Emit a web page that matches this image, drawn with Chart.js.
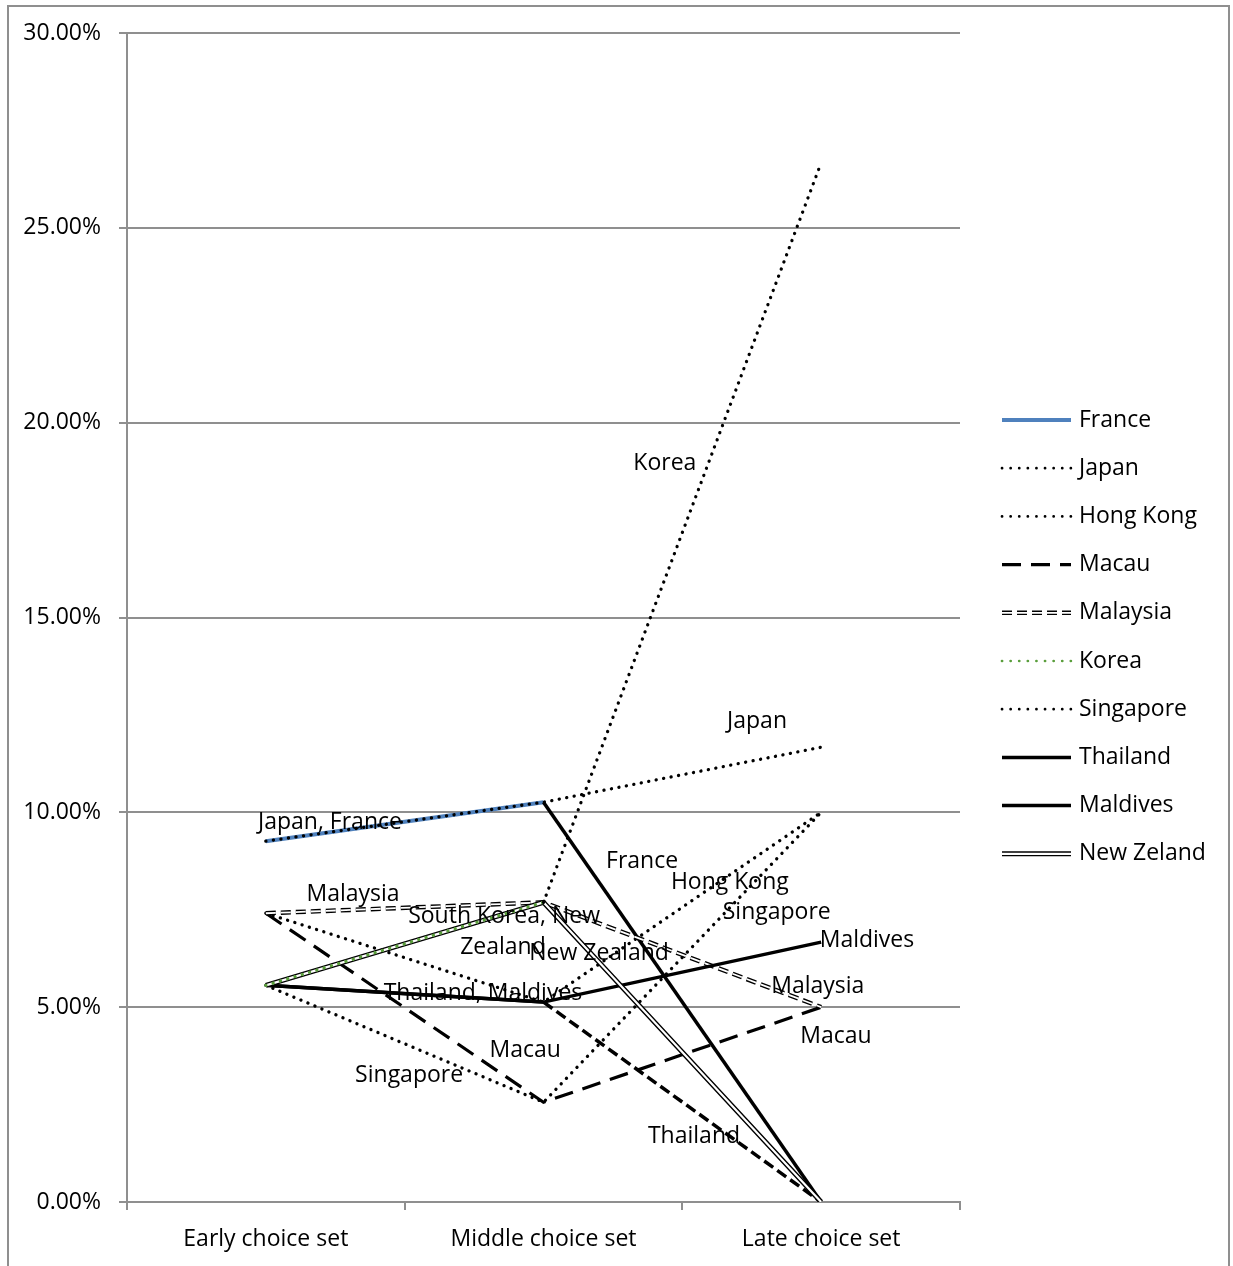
<!DOCTYPE html>
<html lang="en">
<head>
<meta charset="UTF-8">
<title>Choice sets</title>
<script src="https://cdn.jsdelivr.net/npm/chart.js"></script>
<style>
  body { margin: 0; background: #fff; }
  canvas { display: block; }
</style>
</head>
<body>
<canvas id="myChart" width="1233" height="1266"></canvas>
<script>
// data (percent)
const categories = ['Early choice set', 'Middle choice set', 'Late choice set'];
const france    = [9.26, 10.26, 0];
const japan     = [9.26, 10.26, 11.67];
const hongKong  = [7.41, 5.13, 10.0];
const macau     = [7.41, 2.56, 5.0];
const malaysia  = [7.41, 7.69, 5.0];
const korea     = [5.56, 7.69, 26.67];
const singapore = [5.56, 2.56, 10.0];
const thailand  = [5.56, 5.13, 0];
const maldives  = [5.56, 5.13, 6.67];
const newZeland = [5.56, 7.69, 0];
const yTicks = [0, 5, 10, 15, 20, 25, 30];

// text labels on the plot: [text, category position, value]
const plotLabels = [
    ['Japan, France', 0.231, 9.73],
    ['Malaysia', 0.314, 7.88],
    ['South Korea, New', 0.858, 7.34],
    ['Zealand', 0.854, 6.54],
    ['New Zealand', 1.20, 6.39],
    ['Thailand, Maldives', 0.782, 5.36],
    ['Macau', 0.934, 3.90],
    ['Singapore', 0.516, 3.26],
    ['Korea', 1.437, 18.96],
    ['Japan', 1.769, 12.32],
    ['France', 1.355, 8.73],
    ['Hong Kong', 1.671, 8.19],
    ['Singapore', 1.840, 7.42],
    ['Maldives', 2.165, 6.72],
    ['Malaysia', 1.988, 5.52],
    ['Macau', 2.053, 4.26],
    ['Thailand', 1.542, 1.67]
];

const FONT = 'Open Sans';
const FSIZE = 23;
const BLUE = '#4f81bd';
const GREEN = '#5a9e3c';
const GRID = '#8f8f8f';
const DOT = [0.1, 7.5];

const seriesStyle = {
    'France':     { data: france,    color: BLUE,  width: 4,   dash: [] },
    'Japan':      { data: japan,     color: '#000', width: 3.3, dash: DOT },
    'Hong Kong':  { data: hongKong,  color: '#000', width: 3.3, dash: DOT },
    'Macau':      { data: macau,     color: '#000', width: 3.2, dash: [19, 10] },
    'Malaysia':   { data: malaysia,  color: '#000', width: 4.5, dash: [10, 5], inner: 1.8 },
    'Korea':      { data: korea,     color: GREEN, width: 3.3, dash: DOT },
    'Singapore':  { data: singapore, color: '#000', width: 3.3, dash: DOT },
    'Thailand':   { data: thailand,  color: '#000', width: 3.5, dash: [] },
    'Maldives':   { data: maldives,  color: '#000', width: 3.5, dash: [] },
    'New Zeland': { data: newZeland, color: '#000', width: 5, dash: [], inner: 2.2 }
};

// segment tweaks: second segment drawn in black / dashed
const afterMiddle = c => c.p0DataIndex === 1;

const datasets = [];
const names = Object.keys(seriesStyle);
names.forEach(function (name, i) {
    const s = seriesStyle[name];
    const ds = {
        label: name,
        data: s.data,
        borderColor: s.color,
        borderWidth: s.width,
        borderDash: s.dash,
        borderCapStyle: s.dash === DOT ? 'round' : 'butt',
        pointRadius: 0,
        tension: 0,
        order: 20 - i * 2
    };
    if (name === 'France') {
        ds.segment = {
            borderColor: c => afterMiddle(c) ? '#000' : undefined,
            borderWidth: c => afterMiddle(c) ? 3.5 : undefined
        };
    }
    if (name === 'Korea') {
        ds.order = 0;
        ds.segment = { borderColor: c => afterMiddle(c) ? '#000' : undefined };
    }
    if (name === 'Thailand') {
        ds.segment = { borderDash: c => afterMiddle(c) ? [11, 5] : undefined };
    }
    datasets.push(ds);
    if (s.inner) {
        datasets.push({
            label: name + ' inner',
            data: s.data,
            borderColor: '#fff',
            borderWidth: s.inner,
            borderDash: s.dash,
            pointRadius: 0,
            tension: 0,
            order: 20 - i * 2 - 1
        });
    }
});

const framePlugin = {
    id: 'frame',
    beforeDraw(chart) {
        const c = chart.ctx;
        c.save();
        c.fillStyle = '#fff';
        c.fillRect(0, 0, chart.width, chart.height);
        c.strokeStyle = GRID;
        c.lineWidth = 2;
        c.strokeRect(8, 6, 1221, 1280);
        c.restore();
    }
};

const labelPlugin = {
    id: 'plotLabels',
    afterDatasetsDraw(chart) {
        const c = chart.ctx;
        const x = chart.scales.x, y = chart.scales.y;
        c.save();
        c.font = FSIZE + 'px "' + FONT + '"';
        c.fillStyle = '#000';
        c.textAlign = 'center';
        c.textBaseline = 'middle';
        plotLabels.forEach(function (l) {
            c.fillText(l[0], x.getPixelForValue(l[1]), y.getPixelForValue(l[2]));
        });
        c.restore();
    }
};

const legendPlugin = {
    id: 'sideLegend',
    afterDraw(chart) {
        const c = chart.ctx;
        c.save();
        c.font = FSIZE + 'px "' + FONT + '"';
        c.textBaseline = 'middle';
        names.forEach(function (name, i) {
            const s = seriesStyle[name];
            const yy = 420 + i * 48.2;
            const w = s.dash === DOT ? 2.7 : s.width;
            c.strokeStyle = s.color;
            c.lineWidth = w;
            c.lineCap = s.dash === DOT ? 'round' : 'butt';
            c.setLineDash(s.dash === DOT ? [0.1, 8.5] : s.dash);
            c.beginPath();
            c.moveTo(1002, yy);
            c.lineTo(1071, yy);
            c.stroke();
            if (s.inner) {
                c.strokeStyle = '#fff';
                c.lineWidth = s.inner;
                c.beginPath();
                c.moveTo(1002, yy);
                c.lineTo(1071, yy);
                c.stroke();
            }
            c.setLineDash([]);
            c.fillStyle = '#000';
            c.fillText(name, 1079, yy);
        });
        c.restore();
    }
};

const ctx = document.getElementById('myChart');
const chart = new Chart(ctx, {
    type: 'line',
    data: { labels: categories, datasets: datasets },
    options: {
        responsive: false,
        animation: false,
        layout: { padding: { top: 33, right: 273, left: 0, bottom: 0 } },
        plugins: { legend: { display: false }, tooltip: { enabled: false } },
        scales: {
            x: {
                offset: true,
                grid: { offset: true, drawOnChartArea: false, drawTicks: true, tickLength: 8, color: GRID, lineWidth: 2 },
                border: { display: true, color: GRID, width: 2 },
                ticks: { color: '#000', font: { family: FONT, size: FSIZE }, padding: 16, maxRotation: 0, autoSkip: false },
                afterFit: s => { s.height = 64; }
            },
            y: {
                min: 0,
                max: 30,
                afterBuildTicks: s => { s.ticks = yTicks.map(v => ({ value: v })); },
                grid: { color: GRID, lineWidth: 2, tickLength: 8 },
                border: { display: true, color: GRID, width: 2 },
                ticks: {
                    color: '#000',
                    font: { family: FONT, size: FSIZE },
                    padding: 18,
                    callback: v => v.toFixed(2) + '%'
                },
                afterFit: s => { s.width = 127; }
            }
        }
    },
    plugins: [framePlugin, labelPlugin, legendPlugin]
});
</script>
</body>
</html>
